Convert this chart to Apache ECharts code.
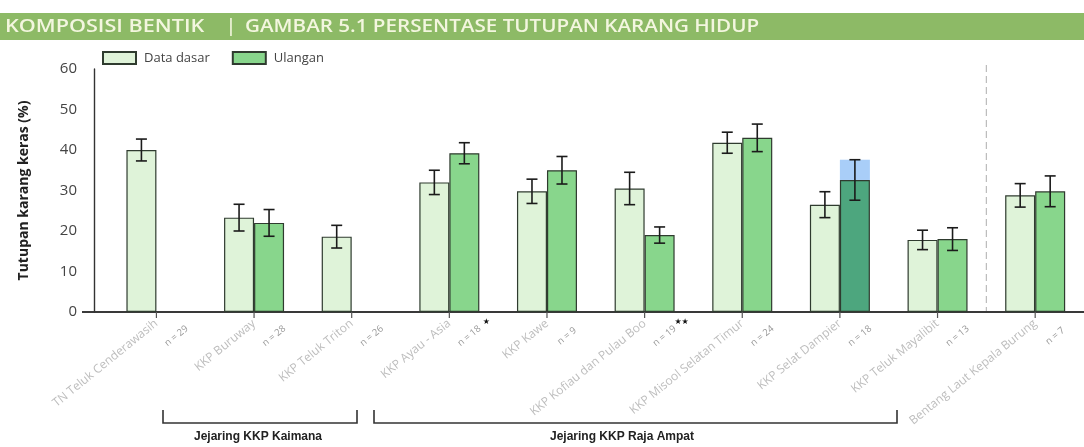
<!DOCTYPE html>
<html>
<head>
<meta charset="utf-8">
<script src="https://cdn.jsdelivr.net/npm/echarts@6/dist/echarts.min.js"></script>
<style>
  html, body { margin: 0; padding: 0; background: #fff; }
  #chart { width: 1084px; height: 447px; }
</style>
</head>
<body>
<div id="chart"></div>
<script>
// data
const sites = ['TN Teluk Cenderawasih', 'KKP Buruway', 'KKP Teluk Triton', 'KKP Ayau - Asia', 'KKP Kawe',
  'KKP Kofiau dan Pulau Boo', 'KKP Misool Selatan Timur', 'KKP Selat Dampier', 'KKP Teluk Mayalibit',
  'Bentang Laut Kepala Burung'];
const sampleN = ['n = 29', 'n = 28', 'n = 26', 'n = 18', 'n = 9', 'n = 19', 'n = 24', 'n = 18', 'n = 13', 'n = 7'];
const signif = ['', '', '', '★', '', '★★', '', '', '', ''];
const dataDasar = [40.0, 23.3, 18.6, 32.0, 29.8, 30.5, 41.8, 26.5, 17.8, 28.8];
const dataDasarErr = [2.7, 3.3, 2.8, 3.0, 3.0, 4.0, 2.6, 3.2, 2.4, 2.9];
const ulangan = [null, 22.0, null, 39.2, 35.0, 19.0, 43.0, 32.6, 18.0, 29.8];
const ulanganErr = [null, 3.3, null, 2.6, 3.4, 2.0, 3.4, 5.0, 2.8, 3.8];
const yTicks = [0, 10, 20, 30, 40, 50, 60];
const highlighted = 'KKP Selat Dampier';

const BAR_W = 30;
const LIGHT = '#dff3d9';
const DARK = '#88d68c';
const BORDER = '#2f3b2f';
const AXIS = '#3a3a3a';
const FONT = 'Open Sans';
const ROT = 39 * Math.PI / 180;

function errorBars(name, values, errs, side) {
  const data = [];
  values.forEach((v, i) => {
    if (v != null) data.push([i, v - errs[i], v + errs[i]]);
  });
  return {
    type: 'custom',
    name: name,
    data: data,
    z: 10,
    silent: true,
    encode: { x: 0, y: [1, 2] },
    renderItem(params, api) {
      const lo = api.coord([api.value(0), api.value(1)]);
      const hi = api.coord([api.value(0), api.value(2)]);
      const x = lo[0] + side * BAR_W / 2;
      const cap = 5.5;
      const style = { stroke: '#1b1b1b', lineWidth: 1.6 };
      return {
        type: 'group',
        children: [
          { type: 'line', shape: { x1: x, y1: hi[1], x2: x, y2: lo[1] }, style },
          { type: 'line', shape: { x1: x - cap, y1: hi[1], x2: x + cap, y2: hi[1] }, style },
          { type: 'line', shape: { x1: x - cap, y1: lo[1], x2: x + cap, y2: lo[1] }, style }
        ]
      };
    }
  };
}

// tick, sample size and significance mark next to each category
const noteSeries = {
  type: 'custom',
  name: 'catatan',
  data: sites.map((s, i) => [i, 0]),
  encode: { x: 0, y: 1 },
  clip: false,
  silent: true,
  z: 10,
  renderItem(params, api) {
    const i = api.value(0);
    const p = api.coord([i, 0]);
    return {
      type: 'group',
      children: [
        { type: 'rect', shape: { x: p[0] - 0.6, y: p[1], width: 1.2, height: 6 }, style: { fill: '#555' } },
        {
          type: 'text', x: p[0] + 20, y: p[1] + 24, rotation: ROT,
          style: { text: sampleN[i], fill: '#999', font: '9.5px "Open Sans"', align: 'center', verticalAlign: 'middle' }
        },
        {
          type: 'text', x: p[0] + 37, y: p[1] + 10,
          style: { text: signif[i], fill: '#111', font: '8px "DejaVu Sans"', align: 'center', verticalAlign: 'middle' }
        }
      ]
    };
  }
};

const chart = echarts.init(document.getElementById('chart'));

const option = {
  animation: false,
  textStyle: { fontFamily: FONT },
  grid: { left: 107.6, right: -7.6, top: 69, bottom: 135 },
  legend: {
    data: ['Data dasar', 'Ulangan'],
    icon: 'rect',
    left: 97,
    top: 46,
    itemWidth: 33,
    itemHeight: 12,
    itemGap: 22,
    textStyle: { fontSize: 13, color: '#444', fontFamily: FONT, padding: [0, 0, 0, 3] }
  },
  xAxis: {
    type: 'category',
    data: sites,
    axisLine: { show: true, onZero: false, lineStyle: { color: AXIS, width: 1.6 } },
    axisTick: { show: false },
    axisLabel: { interval: 0, rotate: 39, margin: 10, fontSize: 12, color: '#bdbdbd', fontFamily: FONT }
  },
  yAxis: {
    type: 'value',
    min: yTicks[0],
    max: yTicks[yTicks.length - 1],
    interval: yTicks[1] - yTicks[0],
    offset: 13.6,
    axisLine: { show: true, lineStyle: { color: '#333', width: 1.4 } },
    axisTick: { show: false },
    splitLine: { show: false },
    axisLabel: { fontSize: 15, color: '#444', margin: 17, fontFamily: FONT },
    name: 'Tutupan karang keras (%)',
    nameLocation: 'middle',
    nameGap: 63,
    nameTextStyle: { fontSize: 14, fontWeight: 'bold', color: '#222', fontFamily: FONT }
  },
  series: [
    {
      name: 'Data dasar',
      type: 'bar',
      barWidth: BAR_W,
      barGap: '0%',
      data: dataDasar,
      itemStyle: { color: LIGHT, borderColor: BORDER, borderWidth: 1.2 }
    },
    {
      name: 'Ulangan',
      type: 'bar',
      stack: 'u',
      barWidth: BAR_W,
      barGap: '0%',
      data: ulangan.map((v, i) => v == null ? '-' :
        (sites[i] === highlighted ? { value: v, itemStyle: { color: '#4da67e' } } : v)),
      itemStyle: { color: DARK, borderColor: BORDER, borderWidth: 1.2 }
    },
    {
      name: 'sorot',
      type: 'bar',
      stack: 'u',
      barWidth: BAR_W,
      barGap: '0%',
      data: ulanganErr.map((e, i) => sites[i] === highlighted ? e : '-'),
      itemStyle: { color: 'rgba(140,190,245,0.75)' },
      z: 1
    },
    errorBars('err-dasar', dataDasar, dataDasarErr, -1),
    errorBars('err-ulangan', ulangan, ulanganErr, 1),
    noteSeries
  ],
  graphic: [
    { type: 'rect', left: 0, top: 13, shape: { width: 1084, height: 27 }, style: { fill: '#8dba66' }, silent: true },
    { type: 'text', x: 5, y: 27, scaleX: 1.2, style: { text: 'KOMPOSISI BENTIK', fill: '#f3f6df', font: '600 18px "Open Sans"', verticalAlign: 'middle' } },
    { type: 'text', x: 226, y: 27, style: { text: '|', fill: '#f3f6df', font: '600 18px "Open Sans"', verticalAlign: 'middle' } },
    { type: 'text', x: 245, y: 27, scaleX: 1.145, style: { text: 'GAMBAR 5.1 PERSENTASE TUTUPAN KARANG HIDUP', fill: '#f3f6df', font: '600 18px "Open Sans"', verticalAlign: 'middle' } },
    // brackets under the axis
    { type: 'polyline', shape: { points: [[163, 410], [163, 423], [357, 423], [357, 410]] }, style: { stroke: '#333', lineWidth: 1.6, fill: null } },
    { type: 'polyline', shape: { points: [[374, 410], [374, 423], [897, 423], [897, 410]] }, style: { stroke: '#333', lineWidth: 1.6, fill: null } },
    { type: 'text', x: 258, y: 437, style: { text: 'Jejaring KKP Kaimana', fill: '#222', font: 'bold 12px "Liberation Sans"', align: 'center', verticalAlign: 'middle' } },
    { type: 'text', x: 622, y: 437, style: { text: 'Jejaring KKP Raja Ampat', fill: '#222', font: 'bold 12px "Liberation Sans"', align: 'center', verticalAlign: 'middle' } }
  ]
};

chart.setOption(option);

// group separator and the base line at zero (extends left of the y axis as in the original)
const y0 = chart.convertToPixel({ yAxisIndex: 0 }, 0);
const yTop = chart.convertToPixel({ yAxisIndex: 0 }, yTicks[yTicks.length - 1]);
const xa = chart.convertToPixel({ xAxisIndex: 0 }, sites[8]);
const xb = chart.convertToPixel({ xAxisIndex: 0 }, sites[9]);
chart.setOption({
  graphic: option.graphic.concat([
    { type: 'line', shape: { x1: (xa + xb) / 2, y1: yTop - 4, x2: (xa + xb) / 2, y2: y0 }, style: { stroke: '#bbb', lineWidth: 1.2, lineDash: [7, 4] } },
    { type: 'rect', shape: { x: 82, y: y0 - 1, width: 1002, height: 2 }, style: { fill: AXIS } }
  ])
});
</script>
</body>
</html>
